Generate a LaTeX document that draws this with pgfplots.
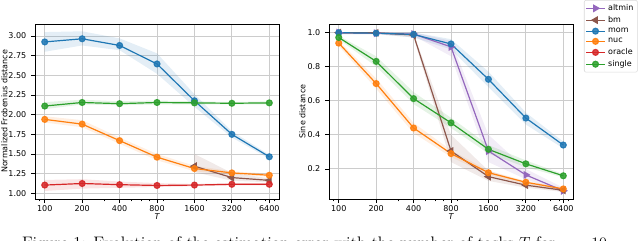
\documentclass[border=0pt]{standalone}
\usepackage{pgfplots}
\pgfplotsset{compat=1.18}
\usepackage{fontspec}
\newfontfamily\dejavu{DejaVu Sans}
\definecolor{tabblue}{HTML}{1F77B4}
\definecolor{taborange}{HTML}{FF7F0E}
\definecolor{tabgreen}{HTML}{2CA02C}
\definecolor{tabred}{HTML}{D62728}
\definecolor{tabpurple}{HTML}{9467BD}
\definecolor{tabbrown}{HTML}{8C564B}
\pgfplotsset{
  myband/.style={fill=#1, fill opacity=0.12, draw=none, forget plot},
  myln/.style={color=#1, line width=0.9pt, mark=*, mark size=2.2pt, mark options={fill=#1, fill opacity=0.85, draw opacity=0.9}},
  mytri/.style 2 args={color=#1, line width=0.9pt, mark=triangle*, mark size=2.6pt, mark options={fill=#1, rotate=#2}},
}
\begin{document}
\begin{tikzpicture}
\path[use as bounding box] (0,0) rectangle (480pt,-180.75pt);
% ---------------- left panel
\begin{axis}[scale only axis, width=183pt, height=131.25pt,
    xmode=log, xmin=83.5, xmax=7662,
    xtick={100,200,400,800,1600,3200,6400},
    xticklabels={100,200,400,800,1600,3200,6400},
    minor xtick={90,300,500,600,700,900,2000,3000,4000,5000,6000,7000},
    tick align=outside, tick pos=left,
    major tick length=3pt, minor tick length=1.8pt,
    xmajorgrids, ymajorgrids,
    major grid style={draw=black!20, line width=0.7pt},
    axis line style={line width=0.7pt},
    tick style={black, line width=0.6pt},
    ticklabel style={font=\dejavu\fontsize{6}{7}\selectfont},
    xticklabel style={inner sep=0.6pt, yshift=-0.8pt},
    label style={font=\dejavu\fontsize{6}{7}\selectfont},
    /pgf/number format/assume math mode=true,
    xlabel={\itshape T},
    xlabel style={at={(axis description cs:0.5,-0.08)}, anchor=north, inner sep=0pt},
    ylabel style={at={(axis description cs:-0.125,0.5)}, anchor=center, rotate=0, inner sep=0pt},
  at={(26.25pt,-149.25pt)}, anchor=south west,
  ymin=0.928, ymax=3.153, ytick={1,1.25,1.5,1.75,2,2.25,2.5,2.75,3},
  yticklabel style={/pgf/number format/.cd, fixed, fixed zerofill, precision=2},
  ylabel={Normalized Frobenius distance}]
\addplot[myband=tabblue] coordinates {(100,3.05)(200,3.06)(400,2.97)(800,2.78)(1600,2.26)(3200,1.79)(6400,1.49)(6400,1.44)(3200,1.71)(1600,2.10)(800,2.52)(400,2.82)(200,2.88)(100,2.80)};
\addplot[myband=tabgreen] coordinates {(100,2.16)(200,2.19)(400,2.17)(800,2.18)(1600,2.17)(3200,2.16)(6400,2.17)(6400,2.13)(3200,2.13)(1600,2.13)(800,2.13)(400,2.12)(200,2.13)(100,2.07)};
\addplot[myband=taborange] coordinates {(100,1.98)(200,1.93)(400,1.71)(800,1.50)(1600,1.35)(3200,1.28)(6400,1.25)(6400,1.21)(3200,1.24)(1600,1.28)(800,1.42)(400,1.63)(200,1.84)(100,1.90)};
\addplot[myband=tabred] coordinates {(100,1.17)(200,1.18)(400,1.15)(800,1.13)(1600,1.12)(3200,1.13)(6400,1.13)(6400,1.10)(3200,1.10)(1600,1.09)(800,1.08)(400,1.07)(200,1.06)(100,1.03)};
\addplot[myband=tabbrown] coordinates {(1600,1.50)(3200,1.26)(6400,1.19)(6400,1.14)(3200,1.16)(1600,1.27)};
\addplot[mytri={tabbrown}{90}] coordinates {(1600,1.345)(3200,1.20)(6400,1.165)};
\addplot[myln=tabblue] coordinates {(100,2.925)(200,2.965)(400,2.88)(800,2.645)(1600,2.177)(3200,1.75)(6400,1.465)};
\addplot[myln=taborange] coordinates {(100,1.94)(200,1.88)(400,1.67)(800,1.46)(1600,1.315)(3200,1.26)(6400,1.23)};
\addplot[myln=tabred] coordinates {(100,1.105)(200,1.125)(400,1.11)(800,1.10)(1600,1.105)(3200,1.115)(6400,1.115)};
\addplot[myln=tabgreen] coordinates {(100,2.11)(200,2.155)(400,2.14)(800,2.155)(1600,2.15)(3200,2.145)(6400,2.15)};
\end{axis}
% ---------------- right panel
\begin{axis}[scale only axis, width=183pt, height=131.25pt,
    xmode=log, xmin=83.5, xmax=7662,
    xtick={100,200,400,800,1600,3200,6400},
    xticklabels={100,200,400,800,1600,3200,6400},
    minor xtick={90,300,500,600,700,900,2000,3000,4000,5000,6000,7000},
    tick align=outside, tick pos=left,
    major tick length=3pt, minor tick length=1.8pt,
    xmajorgrids, ymajorgrids,
    major grid style={draw=black!20, line width=0.7pt},
    axis line style={line width=0.7pt},
    tick style={black, line width=0.6pt},
    ticklabel style={font=\dejavu\fontsize{6}{7}\selectfont},
    xticklabel style={inner sep=0.6pt, yshift=-0.8pt},
    label style={font=\dejavu\fontsize{6}{7}\selectfont},
    /pgf/number format/assume math mode=true,
    xlabel={\itshape T},
    xlabel style={at={(axis description cs:0.5,-0.08)}, anchor=north, inner sep=0pt},
    ylabel style={at={(axis description cs:-0.109,0.5)}, anchor=center, rotate=0, inner sep=0pt},
  at={(246.75pt,-149.25pt)}, anchor=south west,
  ymin=0.024, ymax=1.049, ytick={0.2,0.4,0.6,0.8,1.0},
  yticklabel style={/pgf/number format/.cd, fixed, fixed zerofill, precision=1},
  ylabel={Sine distance},
  legend image code/.code={\draw[mark repeat=2,mark phase=2] plot coordinates {(0pt,0pt)(7pt,0pt)(14pt,0pt)};},
  legend style={at={(1.045,1.137)}, anchor=north west, draw=black!15, rounded corners=1.5pt,
    fill=white, font=\dejavu\fontsize{6}{7}\selectfont, inner sep=1pt, row sep=-1.2pt},
  legend cell align=left]
\addplot[myband=tabblue] coordinates {(100,1.0)(200,1.0)(400,1.0)(800,0.96)(1600,0.77)(3200,0.53)(6400,0.36)(6400,0.32)(3200,0.46)(1600,0.68)(800,0.90)(400,0.97)(200,0.99)(100,0.99)};
\addplot[myband=tabpurple] coordinates {(100,1.0)(200,1.0)(400,1.0)(800,0.95)(1600,0.40)(3200,0.20)(6400,0.09)(6400,0.06)(3200,0.14)(1600,0.24)(800,0.86)(400,0.98)(200,0.99)(100,0.99)};
\addplot[myband=tabbrown] coordinates {(100,1.0)(200,1.0)(400,0.99)(800,0.40)(1600,0.19)(3200,0.12)(6400,0.085)(6400,0.065)(3200,0.09)(1600,0.13)(800,0.24)(400,0.97)(200,0.99)(100,0.99)};
\addplot[myband=taborange] coordinates {(100,0.95)(200,0.73)(400,0.47)(800,0.31)(1600,0.19)(3200,0.13)(6400,0.09)(6400,0.075)(3200,0.11)(1600,0.165)(800,0.27)(400,0.41)(200,0.67)(100,0.92)};
\addplot[myband=tabgreen] coordinates {(100,0.98)(200,0.86)(400,0.65)(800,0.50)(1600,0.34)(3200,0.25)(6400,0.17)(6400,0.15)(3200,0.21)(1600,0.29)(800,0.44)(400,0.58)(200,0.80)(100,0.96)};
\addplot[mytri={tabpurple}{-90}] coordinates {(100,0.998)(200,0.995)(400,0.99)(800,0.915)(1600,0.305)(3200,0.165)(6400,0.072)};
\addlegendentry{altmin}
\addplot[mytri={tabbrown}{90}] coordinates {(100,0.998)(200,0.997)(400,0.985)(800,0.305)(1600,0.155)(3200,0.105)(6400,0.075)};
\addlegendentry{bm}
\addplot[myln=tabblue] coordinates {(100,0.998)(200,0.995)(400,0.988)(800,0.932)(1600,0.725)(3200,0.498)(6400,0.34)};
\addlegendentry{mom}
\addplot[myln=taborange] coordinates {(100,0.937)(200,0.70)(400,0.44)(800,0.29)(1600,0.178)(3200,0.122)(6400,0.083)};
\addlegendentry{nuc}
\addlegendimage{myln=tabred}
\addlegendentry{oracle}
\addplot[myln=tabgreen] coordinates {(100,0.97)(200,0.83)(400,0.612)(800,0.47)(1600,0.315)(3200,0.23)(6400,0.16)};
\addlegendentry{single}
\end{axis}
\begin{scope}
\clip (0,0) rectangle (480pt,-180.75pt);
\node[anchor=north west, inner sep=0pt, font=\fontsize{12.5}{14}\selectfont] at (16.3pt,-177.4pt)
  {Figure 1: Evolution of the estimation error with the number of tasks $T$ for $\mu = 10$};
\end{scope}
\end{tikzpicture}
\end{document}
